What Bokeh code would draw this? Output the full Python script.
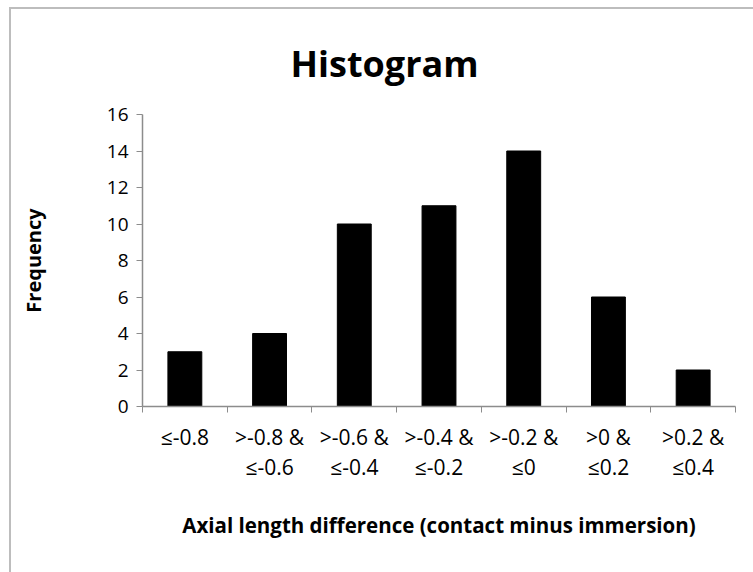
from bokeh.plotting import figure
from bokeh.models import Range1d, FixedTicker, LinearAxis
from bokeh.embed import file_html
from bokeh.resources import INLINE

categories = ["≤-0.8", ">-0.8 &\n≤-0.6", ">-0.6 &\n≤-0.4", ">-0.4 &\n≤-0.2",
              ">-0.2 &\n≤0", ">0 &\n≤0.2", ">0.2 &\n≤0.4"]
frequency = [3, 4, 10, 11, 14, 6, 2]
y_ticks = [0, 2, 4, 6, 8, 10, 12, 14, 16]

FONT = "Open Sans"
AX = "#8c8c8c"

centers = [i + 0.5 for i in range(len(categories))]
bounds = list(range(len(categories) + 1))

p = figure(width=744, height=565, output_backend="svg", toolbar_location=None,
           x_range=Range1d(0, len(categories)), y_range=Range1d(0, 16),
           x_axis_type=None, y_axis_type=None,
           min_border_left=131, min_border_right=20, min_border_top=105, min_border_bottom=168)
p.margin = (7, 0, 0, 9)
p.styles = {"border-top": "2px solid #bdbdbd", "border-left": "2px solid #bdbdbd"}
p.outline_line_color = None
p.xgrid.visible = False
p.ygrid.visible = False

p.title.text = "Histogram"
p.title.align = "left"
p.title.text_font = FONT
p.title.text_font_size = "36px"
p.title.text_font_style = "bold"
p.title.text_color = "black"
p.title.offset = 148
p.title.standoff = 53

p.vbar(x=centers, top=frequency, width=0.4, fill_color="black", line_color="black")

xa = LinearAxis(ticker=FixedTicker(ticks=centers, minor_ticks=bounds),
                major_label_overrides={c: lab for c, lab in zip(centers, categories)})
xa.major_tick_out = 0
xa.major_tick_in = 0
xa.minor_tick_out = 6
xa.minor_tick_in = 0
xa.minor_tick_line_color = AX
xa.axis_line_color = AX
xa.axis_line_width = 1.5
xa.major_label_text_font = FONT
xa.major_label_text_font_size = "21px"
xa.major_label_text_line_height = 1.1
xa.major_label_text_color = "black"
xa.major_label_standoff = 10
xa.axis_label = "Axial length difference (contact minus immersion)"
xa.axis_label_text_font = FONT
xa.axis_label_text_font_size = "20.5px"
xa.axis_label_text_font_style = "bold"
xa.axis_label_text_color = "black"
xa.axis_label_standoff = 27
p.add_layout(xa, "below")

ya = LinearAxis(ticker=FixedTicker(ticks=y_ticks))
ya.major_tick_out = 6
ya.major_tick_in = 0
ya.minor_tick_out = 0
ya.minor_tick_in = 0
ya.major_tick_line_color = AX
ya.axis_line_color = AX
ya.axis_line_width = 1.5
ya.major_label_text_font = FONT
ya.major_label_text_font_size = "19px"
ya.major_label_text_color = "black"
ya.major_label_standoff = 8
ya.axis_label = "Frequency"
ya.axis_label_text_font = FONT
ya.axis_label_text_font_size = "20px"
ya.axis_label_text_font_style = "bold"
ya.axis_label_text_color = "black"
ya.axis_label_standoff = 57
p.add_layout(ya, "left")

open("out.html", "w").write(file_html(p, INLINE))
